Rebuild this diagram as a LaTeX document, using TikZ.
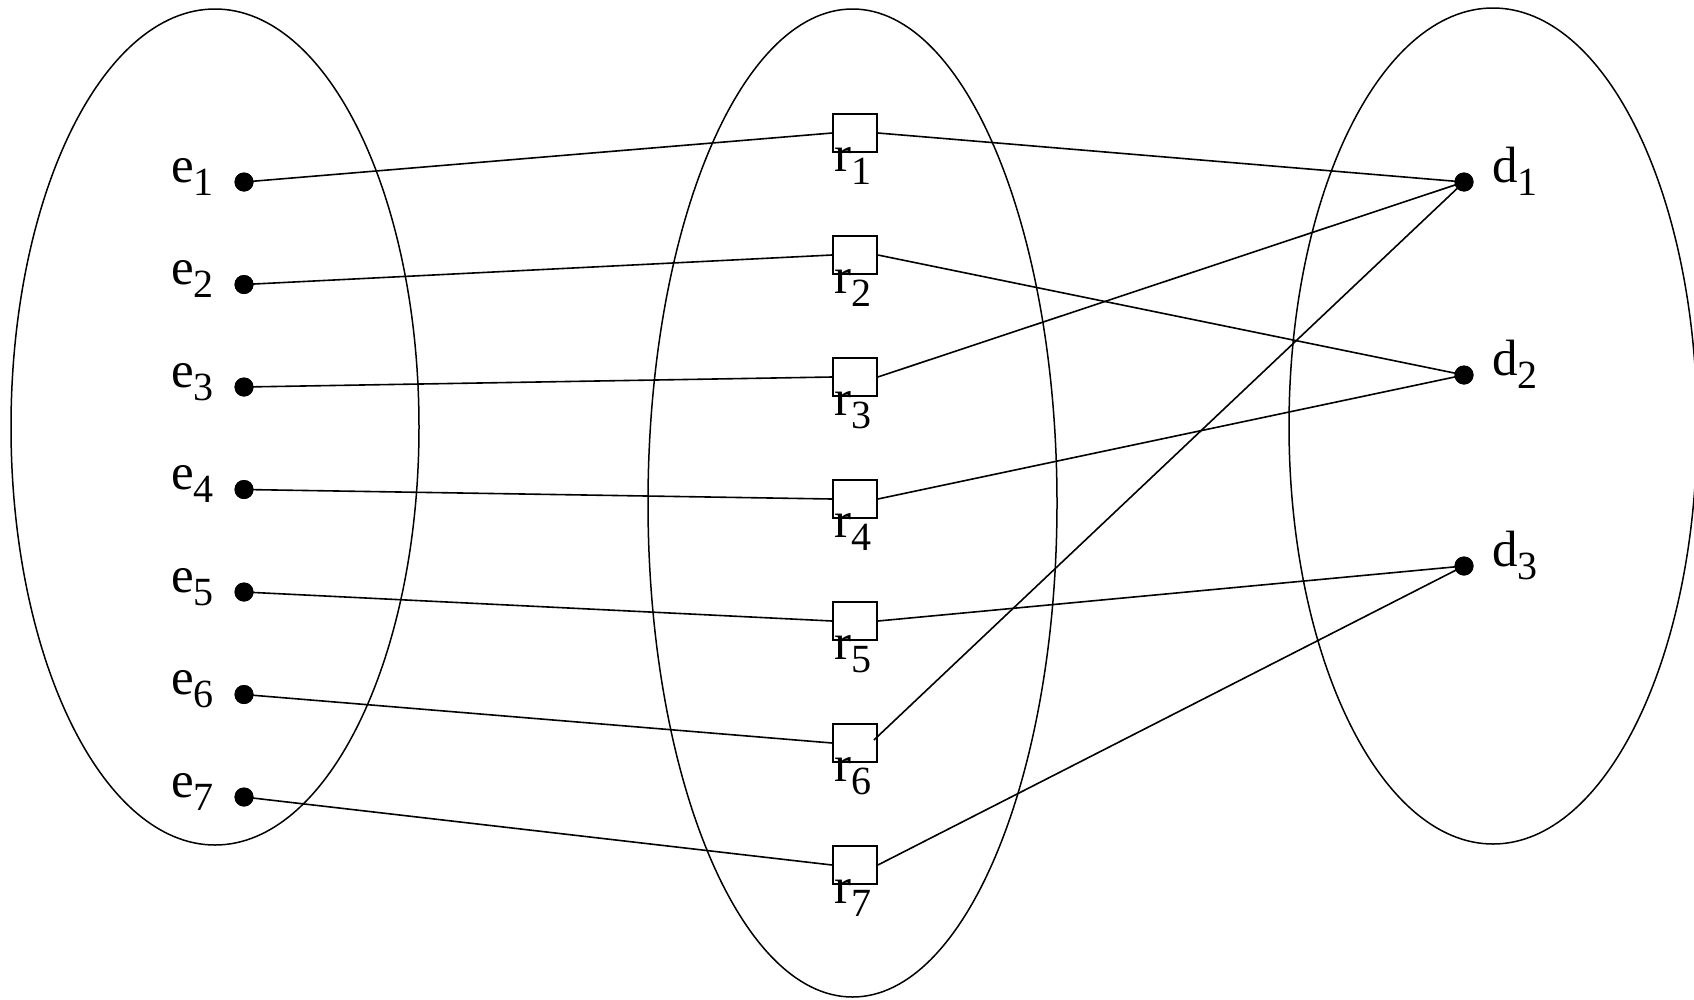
\documentclass[tikz,border=0pt]{standalone}
\usepackage{fontspec}
\setmainfont{Liberation Serif}
\usetikzlibrary{shapes.geometric}
\tikzset{
  setshape/.style={draw, ellipse, line width=1.5pt, inner sep=0pt},
  dotnode/.style={circle, fill=black, inner sep=0pt, minimum size=19pt},
  relbox/.style={draw, rectangle, line width=1.8pt, minimum width=44pt, minimum height=38pt, inner sep=0pt},
  lbl/.style={inner sep=0pt, font=\fontsize{51}{60}\selectfont},
  link/.style={line width=1.6pt},
}
\newcommand{\sublbl}[2]{#1\raisebox{-13pt}{\fontsize{40}{48}\selectfont #2}}
\begin{document}
\begin{tikzpicture}[x=1pt, y=-1pt]
\useasboundingbox (0,0) rectangle (1694,999);
% sets
\node[setshape, minimum width=408pt, minimum height=836pt] (setE) at (215,427) {};
\node[setshape, minimum width=409pt, minimum height=988pt] (setR) at (852.5,503) {};
\node[setshape, minimum width=408pt, minimum height=836pt] (setD) at (1493,426) {};
% entity dots and labels
\foreach \i in {1,...,7} {
  \node[dotnode] (e\i) at (244,{182+(\i-1)*102.5}) {};
  \node[lbl, anchor=base east] (el\i) at (214,{182+(\i-1)*102.5}) {\sublbl{e}{\i}};
}
% relation boxes
\foreach \i in {1,...,7} {
  \node[relbox] (r\i) at (855,{133+(\i-1)*122}) {};
}
% d dots
\node[dotnode] (d1) at (1464,182) {};
\node[dotnode] (d2) at (1464,375) {};
\node[dotnode] (d3) at (1464,566) {};
\node[lbl, anchor=base west] (dl1) at (1492,182) {\sublbl{d}{1}};
\node[lbl, anchor=base west] (dl2) at (1492,375) {\sublbl{d}{2}};
\node[lbl, anchor=base west] (dl3) at (1492,566) {\sublbl{d}{3}};
% links
\foreach \i in {1,...,7} {
  \draw[link] (e\i.center) -- (r\i.west);
}
\draw[link] (r1.east) -- (d1.center);
\draw[link] (r2.east) -- (d2.center);
\draw[link] (r3.east) -- (d1.center);
\draw[link] (r4.east) -- (d2.center);
\draw[link] (r5.east) -- (d3.center);
\draw[link] ([xshift=-4pt,yshift=3pt]r6.east) -- (d1.center);
\draw[link] (r7.east) -- (d3.center);
% redraw dots on top
\foreach \i in {1,...,7} { \fill (e\i) circle (9.5pt); }
\foreach \i in {1,2,3} { \fill (d\i) circle (9.5pt); }
% relation labels
\foreach \i in {1,...,7} {
  \node[lbl, anchor=base west] (rl\i) at (834,{171+(\i-1)*122}) {\sublbl{r}{\i}};
}
\end{tikzpicture}
\end{document}
